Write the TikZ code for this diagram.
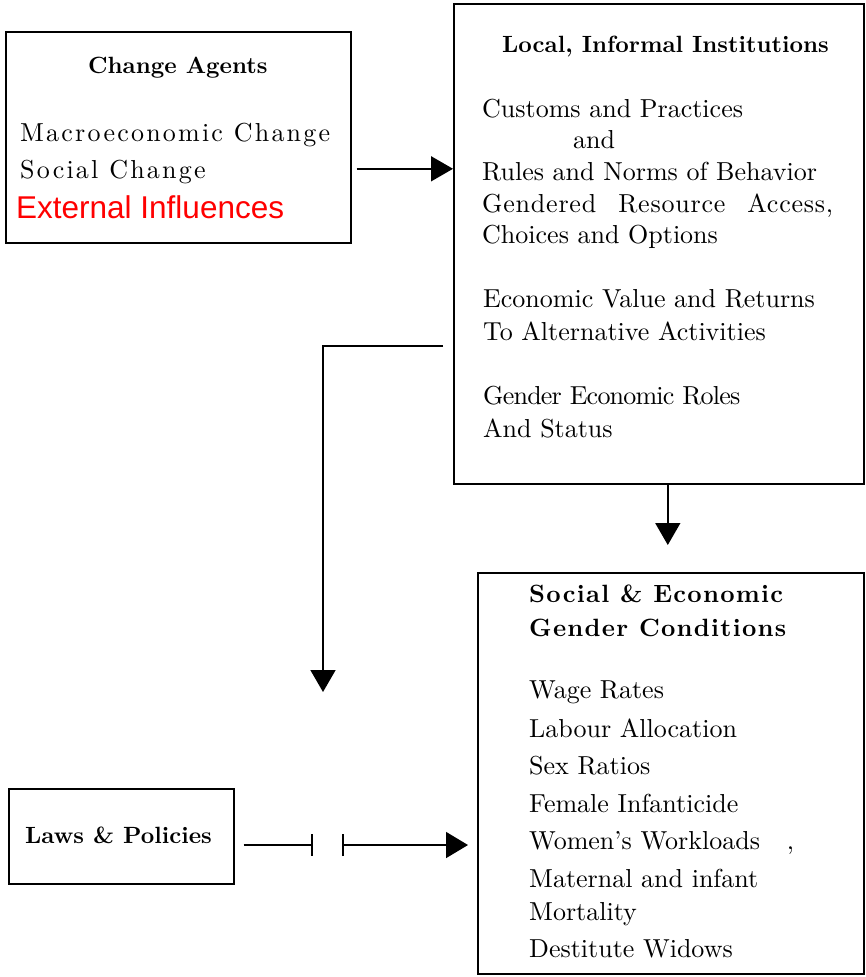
\documentclass[tikz,border=0pt]{standalone}
\usepackage{fontspec}
\setmainfont{lmroman10-regular.otf}[BoldFont=lmroman10-bold.otf, ItalicFont=lmroman10-italic.otf]
\newfontfamily\arialfont{Liberation Sans}
\usetikzlibrary{arrows.meta}
\definecolor{extRed}{HTML}{FF0000}

\begin{document}
\begin{tikzpicture}[x=1pt, y=-1pt,
    box/.style={draw, line width=1.6pt, anchor=north west, inner sep=0pt},
    arr/.style={line width=1.6pt, -{Triangle[length=22pt,width=25pt]}},
    head/.style={anchor=base west, inner sep=0pt, font=\fontsize{23.5}{28}\selectfont\bfseries},
    txt/.style={anchor=base west, inner sep=0pt, font=\fontsize{26}{31}\selectfont}]
  \useasboundingbox (0,0) rectangle (866,977);

  % the four boxes
  \node[box, minimum width=345pt, minimum height=211pt] (agents) at (5,31) {};
  \node[box, minimum width=410pt, minimum height=480pt] (inst) at (453,3) {};
  \node[box, minimum width=386pt, minimum height=401pt] (cond) at (477,572) {};
  \node[box, minimum width=225pt, minimum height=95pt] (laws) at (8,788) {};

  % change agents
  \node[head] (agentsHead) at (88,73) {Change Agents};
  \node[txt] (macro) at (20,141) {\addfontfeatures{LetterSpace=8.5}Macroeconomic Change};
  \node[txt] (social) at (20,178) {\addfontfeatures{LetterSpace=8.5}Social Change};
  \node[anchor=base west, inner sep=0pt, text=extRed,
        font=\arialfont\fontsize{31.5}{36}\selectfont] (external) at (16,218) {External Influences};

  % local, informal institutions
  \node[head] (instHead) at (502,52) {Local, Informal Institutions};
  \foreach \x/\y/\t [count=\i] in {482/117/{Customs and Practices}, 573/148/and,
      482/180/{Rules and Norms of Behavior},
      482/212/{\addfontfeatures{LetterSpace=3}Gendered\hspace{22pt}Resource\hspace{22pt}Access,},
      482/243/{Choices and Options}, 483/307/{Economic Value and Returns},
      483/340/{To Alternative Activities},
      483/404/{\addfontfeatures{LetterSpace=-3}Gender Economic Roles},
      483/437/{And Status}}
    \node[txt] (inst\i) at (\x,\y) {\t};

  % gender conditions
  \node[head, font=\fontsize{25}{30}\selectfont\bfseries\addfontfeatures{LetterSpace=5}] (condHead1) at (529,602) {Social \& Economic};
  \node[head, font=\fontsize{25}{30}\selectfont\bfseries\addfontfeatures{LetterSpace=5}] (condHead2) at (529,636) {Gender Conditions};
  \foreach \y/\t [count=\i] in {698/{Wage Rates}, 737/{Labour Allocation},
      774/{Sex Ratios}, 812/{Female Infanticide},
      849/{Women’s Workloads\hspace{27pt},}, 887/{Maternal and infant},
      920/Mortality, 957/{Destitute Widows}}
    \node[txt] (cond\i) at (529,\y) {\t};

  % laws
  \node[head] (lawsHead) at (25,843) {Laws \& Policies};

  % connectors
  \coordinate (agentsOut) at ([yshift=-31.5pt]agents.east);
  \draw[arr, shorten <=5pt] (agentsOut) -- (agentsOut -| inst.west);
  \coordinate (instOut) at ([xshift=9pt]inst.south);
  \draw[arr, shorten >=27pt] (instOut) -- (instOut |- cond.north);
  \coordinate (fbStart) at (443,346);
  \coordinate (fbEnd) at (323,692);
  \draw[arr] (fbStart) -| (fbEnd);
  \coordinate (cutL) at (313,845);
  \coordinate (cutR) at (342,845);
  \draw[line width=1.6pt, -{Bar[width=22pt]}, shorten <=9pt] (laws.east |- cutL) -- (cutL);
  \draw[line width=1.6pt, {Bar[width=22pt]}-{Triangle[length=22pt,width=26pt]}, shorten >=9pt] (cutR) -- (cutR -| cond.west);
\end{tikzpicture}
\end{document}
